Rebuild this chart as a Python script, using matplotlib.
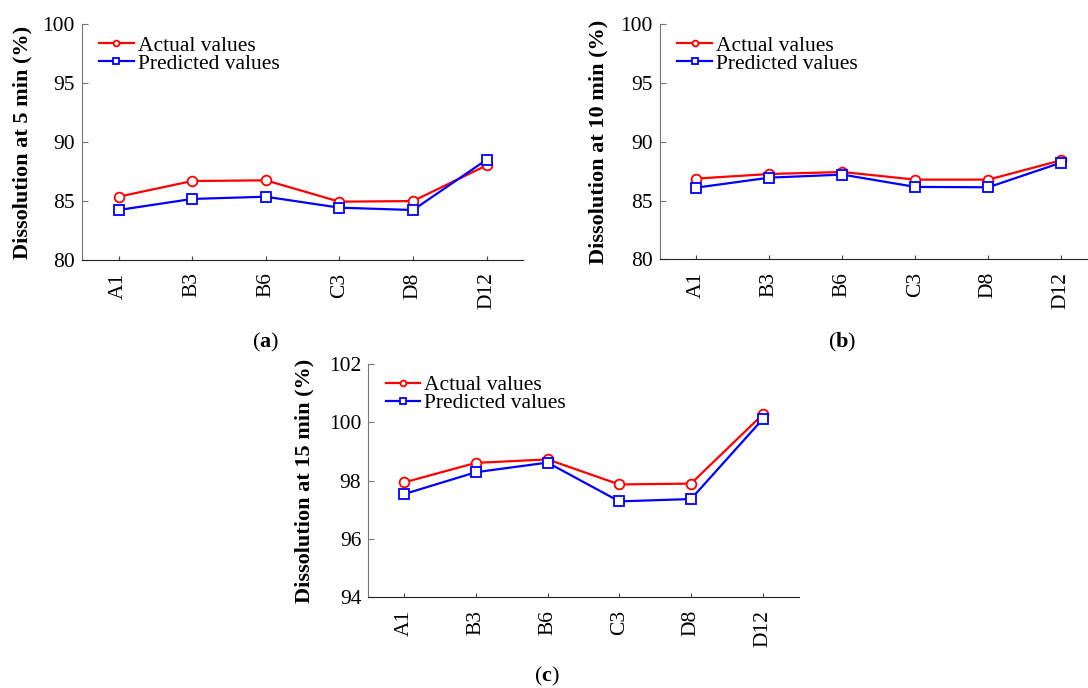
import numpy as np
import matplotlib
matplotlib.use("Agg")
import matplotlib.pyplot as plt

plt.rcParams["font.family"] = ["Liberation Serif", "DejaVu Serif"]
plt.rcParams["mathtext.fontset"] = "custom"
plt.rcParams["mathtext.rm"] = "Liberation Serif"
plt.rcParams["mathtext.bf"] = "Liberation Serif:bold"

# data
formulas = ["A1", "B3", "B6", "C3", "D8", "D12"]
actual_5 = [85.37, 86.70, 86.76, 84.95, 85.00, 88.03]
pred_5 = [84.24, 85.18, 85.37, 84.44, 84.24, 88.51]
actual_10 = [86.87, 87.26, 87.43, 86.78, 86.78, 88.43]
pred_10 = [86.10, 86.95, 87.21, 86.16, 86.13, 88.23]
actual_15 = [97.94, 98.61, 98.73, 97.87, 97.90, 100.27]
pred_15 = [97.54, 98.29, 98.62, 97.29, 97.37, 100.11]

fig = plt.figure(figsize=(10.88, 6.88), dpi=100)

FS = 15.5

def panel(rect, actual, pred, ylim, yticks, ylabel, lab_x, tag, tag_xy):
    ax = fig.add_axes(rect)
    x = np.arange(1, len(formulas) + 1)
    ax.plot(x, actual, "-o", color="#ff0000", lw=1.6, ms=7, mfc="white", mew=1.3,
            label="Actual values")
    ax.plot(x, pred, "-s", color="#0000ff", lw=1.6, ms=6.5, mfc="white", mew=1.3,
            label="Predicted values")
    ax.set_xlim(0.5, 6.5)
    ax.set_ylim(*ylim)
    ax.set_yticks(yticks)
    ax.set_xticks(x)
    ax.set_xticklabels(formulas, rotation=90)
    ax.tick_params(axis="x", direction="in", length=3, pad=9, labelsize=FS, color="#444444")
    ax.tick_params(axis="y", direction="in", length=4, pad=5, labelsize=FS, color="#777777")
    ax.spines["top"].set_visible(False)
    ax.spines["right"].set_visible(False)
    ax.spines["left"].set_color("#777777")
    ax.spines["bottom"].set_color("#222222")
    ax.set_ylabel(ylabel, fontsize=16, fontweight="bold")
    ax.yaxis.set_label_coords(lab_x, 0.5)
    ax.legend(loc="upper left", bbox_to_anchor=(0.015, 0.998), frameon=False,
              fontsize=FS, handlelength=1.6, handletextpad=0.2, labelspacing=-0.1,
              borderpad=0, markerscale=0.6)
    fig.text(tag_xy[0] / 1088, 1 - tag_xy[1] / 688, r"($\mathbf{%s}$)" % tag,
             ha="center", va="center", fontsize=16)
    return ax

panel([0.0751, 0.6221, 0.406, 0.3426], actual_5, pred_5, (80, 100), [80, 85, 90, 95, 100],
      "Dissolution at 5 min (%)", -0.1125, "a", (266, 342))
panel([0.6066, 0.6231, 0.4024, 0.3416], actual_10, pred_10, (80, 100), [80, 85, 90, 95, 100],
      "Dissolution at 10 min (%)", -0.1165, "b", (842, 342))
panel([0.3385, 0.1318, 0.3955, 0.3391], actual_15, pred_15, (94, 102), [94, 96, 98, 100, 102],
      "Dissolution at 15 min (%)", -0.124, "c", (547, 676))

fig.savefig("out.png", dpi=100)
